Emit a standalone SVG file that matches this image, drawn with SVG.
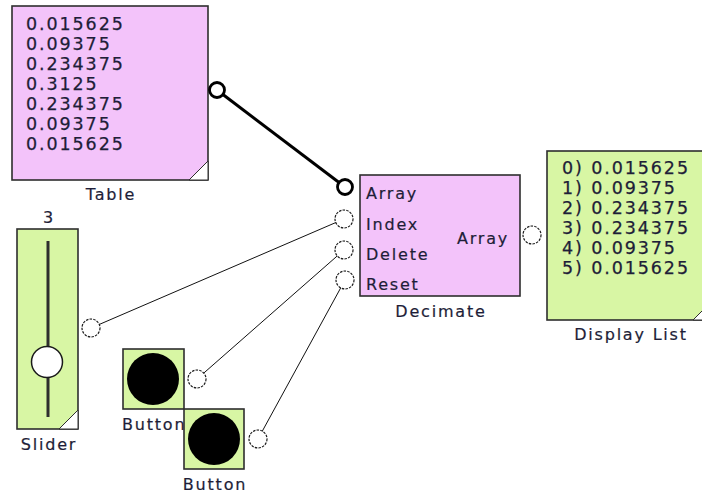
<svg xmlns="http://www.w3.org/2000/svg" width="702" height="493" viewBox="0 0 702 493">
<style>
.bg{fill:#ffffff}
.pink{fill:#f3c3fa;stroke:#2e2e2e;stroke-width:1.6}
.green{fill:#d8f6a4;stroke:#2e2e2e;stroke-width:1.6}
.tri{fill:#ffffff;stroke:#2e2e2e;stroke-width:1}
.lst{font-family:"DejaVu Sans",Verdana,sans-serif;font-size:17.5px;letter-spacing:1.9px;fill:#1e1e38;stroke:#1e1e38;stroke-width:0.25}
.lbl{font-family:"DejaVu Sans",Verdana,sans-serif;font-size:16px;letter-spacing:1.8px;fill:#1e1e38;stroke:#1e1e38;stroke-width:0.2}
.mid{text-anchor:middle}
.port{fill:#ffffff;stroke:#1a1a1a;stroke-width:1.2;stroke-dasharray:2.5 1.2}
.portb{fill:#ffffff;stroke:#000000;stroke-width:2.8}
.wire{fill:none;stroke:#111111;stroke-width:1}
.wireb{fill:none;stroke:#000000;stroke-width:3}
</style>
<rect class="bg" x="0" y="0" width="702" height="493"/>

<g id="connectors">
<line class="wireb" x1="217" y1="90" x2="345" y2="187"/>
<line class="wire" x1="91" y1="328" x2="344" y2="219"/>
<line class="wire" x1="197" y1="379" x2="344" y2="250"/>
<line class="wire" x1="258" y1="439" x2="345" y2="280"/>
</g>

<g id="table">
<rect class="pink" x="12" y="6" width="196" height="174"/>
<path class="tri" d="M208 161 L208 180 L189 180 Z"/>
<text class="lst" x="26" y="29.5">0.015625</text>
<text class="lst" x="26" y="49.5">0.09375</text>
<text class="lst" x="26" y="69.5">0.234375</text>
<text class="lst" x="26" y="89.5">0.3125</text>
<text class="lst" x="26" y="109.5">0.234375</text>
<text class="lst" x="26" y="129.5">0.09375</text>
<text class="lst" x="26" y="149.5">0.015625</text>
<text class="lbl mid" x="111" y="200">Table</text>
<circle class="portb" cx="217" cy="90" r="7.5"/>
</g>

<g id="decimate">
<rect class="pink" x="360" y="175" width="160" height="121"/>
<text class="lbl" x="366" y="199">Array</text>
<text class="lbl" x="366" y="230">Index</text>
<text class="lbl" x="366" y="260">Delete</text>
<text class="lbl" x="366" y="290">Reset</text>
<text class="lbl" x="457" y="244">Array</text>
<text class="lbl mid" x="441" y="316.5">Decimate</text>
<circle class="portb" cx="345" cy="187" r="7.5"/>
<circle class="port" cx="344" cy="219" r="9"/>
<circle class="port" cx="344" cy="250" r="9"/>
<circle class="port" cx="345" cy="280" r="9"/>
<circle class="port" cx="532" cy="235" r="9"/>
</g>

<g id="display-list">
<rect class="green" x="547" y="151" width="165" height="169"/>
<path class="tri" d="M712 301 L712 320 L693 320 Z"/>
<text class="lst" x="562" y="173.5">0) 0.015625</text>
<text class="lst" x="562" y="193.5">1) 0.09375</text>
<text class="lst" x="562" y="213.5">2) 0.234375</text>
<text class="lst" x="562" y="233.5">3) 0.234375</text>
<text class="lst" x="562" y="253.5">4) 0.09375</text>
<text class="lst" x="562" y="273.5">5) 0.015625</text>
<text class="lbl mid" x="631" y="340">Display List</text>
</g>

<g id="slider">
<text class="lbl mid" x="49" y="223">3</text>
<rect class="green" x="17" y="229" width="61" height="200"/>
<path class="tri" d="M78 410 L78 429 L59 429 Z"/>
<line x1="48" y1="241" x2="48" y2="417" stroke="#2e2e2e" stroke-width="3"/>
<circle cx="47" cy="362" r="15.5" fill="#ffffff" stroke="#1a1a1a" stroke-width="1.5"/>
<text class="lbl mid" x="49" y="450">Slider</text>
<circle class="port" cx="91" cy="328" r="9"/>
</g>

<g id="button1">
<rect class="green" x="123" y="349" width="61" height="60"/>
<circle cx="153" cy="379" r="26" fill="#000000"/>
<text class="lbl" x="122" y="430">Button</text>
<circle class="port" cx="197" cy="379" r="9"/>
</g>

<g id="button2">
<rect class="green" x="184" y="409" width="60" height="60"/>
<circle cx="214" cy="439" r="26" fill="#000000"/>
<text class="lbl mid" x="215" y="490">Button</text>
<circle class="port" cx="258" cy="439" r="9"/>
</g>
</svg>
